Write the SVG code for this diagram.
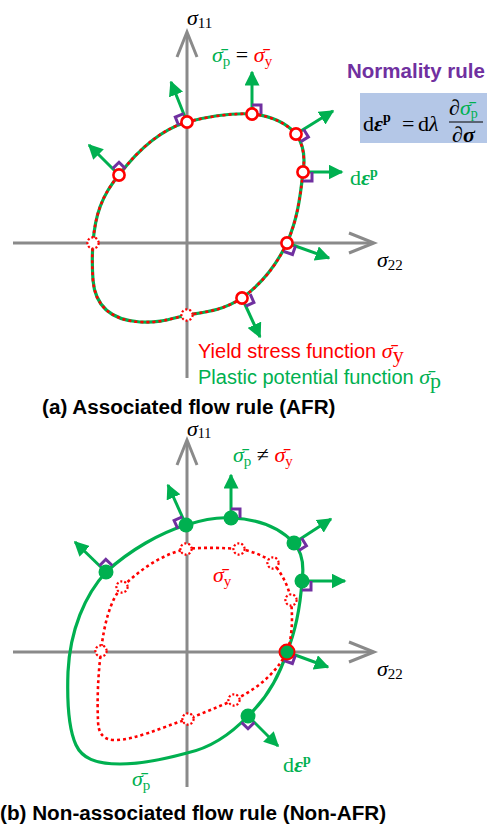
<svg xmlns="http://www.w3.org/2000/svg" width="487" height="824" viewBox="0 0 487 824">
<defs>
<marker id="ah" viewBox="0 0 10 10" refX="9" refY="5" markerWidth="5" markerHeight="5" orient="auto" markerUnits="strokeWidth">
<path d="M0,0 L10,5 L0,10 Z" fill="#00B050"/>
</marker>
<style>
.axis{stroke:#8a8a8a;stroke-width:3;fill:none}
.grn{stroke:#00B050;stroke-width:3.2;fill:none}
.reddot{stroke:#FF0000;stroke-width:2.6;fill:none;stroke-dasharray:3 3}
.pt{fill:#fff;stroke:#FF0000;stroke-width:2.6}
.dpt{fill:#fff;stroke:#FF0000;stroke-width:2.2;stroke-dasharray:2 2}
.gpt{fill:#00B050}
.nrm{stroke:#00B050;stroke-width:3;marker-end:url(#ah);fill:none}
.ra{stroke:#7030A0;stroke-width:3;fill:none}
.m{font-family:"Liberation Serif","Times New Roman",serif;font-size:22px}
.it{font-style:italic}
.lbl{font-family:"Liberation Sans",Arial,sans-serif;font-size:20px}
.ttl{font-family:"Liberation Sans",Arial,sans-serif;font-size:20.7px;font-weight:bold;fill:#000}
</style>
</defs>
<rect width="487" height="824" fill="#fff"/>

<!-- ===== (a) ===== -->
<g id="a-axes">
<line class="axis" x1="187" y1="378" x2="187" y2="33"/>
<polyline class="axis" points="177,57 187,32 197,57"/>
<line class="axis" x1="13" y1="243" x2="373" y2="243"/>
<polyline class="axis" points="349,233 374,243 349,253"/>
<text class="m" x="187" y="25" font-size="20"><tspan class="it">σ</tspan><tspan font-size="15" dy="3">11</tspan></text>
<text class="m" x="377" y="267" font-size="20"><tspan class="it">σ</tspan><tspan font-size="15" dy="3">22</tspan></text>
</g>

<g id="a-surface">
<path class="grn" d="M187,122 C210,116 235,113 252,114 C272,116 287,124 296,134 C304,145 305,160 303,172 C300,200 297,220 287,243 C275,268 260,285 242,298 C222,311 205,312 187,315 C170,319 160,323 140,322 C110,320 95,305 93,280 C92,265 92,255 93,243 C95,215 102,195 119,175 C138,150 160,130 187,122 Z"/>
<path class="reddot" d="M187,122 C210,116 235,113 252,114 C272,116 287,124 296,134 C304,145 305,160 303,172 C300,200 297,220 287,243 C275,268 260,285 242,298 C222,311 205,312 187,315 C170,319 160,323 140,322 C110,320 95,305 93,280 C92,265 92,255 93,243 C95,215 102,195 119,175 C138,150 160,130 187,122 Z"/>
</g>

<g id="connectors">
<line class="nrm" x1="119" y1="175" x2="89" y2="145"/>
<line class="nrm" x1="187" y1="122" x2="171" y2="82"/>
<line class="nrm" x1="252" y1="114" x2="252" y2="72"/>
<line class="nrm" x1="296" y1="134" x2="333" y2="111"/>
<line class="nrm" x1="303" y1="172" x2="342" y2="172"/>
<line class="nrm" x1="287" y1="243" x2="329" y2="258"/>
<line class="nrm" x1="242" y1="298" x2="260" y2="337"/>
<line class="nrm" x1="106" y1="572" x2="75" y2="542"/>
<line class="nrm" x1="186" y1="525" x2="168" y2="485"/>
<line class="nrm" x1="231" y1="518" x2="231" y2="475"/>
<line class="nrm" x1="294" y1="543" x2="331" y2="519"/>
<line class="nrm" x1="302" y1="581" x2="345" y2="581"/>
<line class="nrm" x1="287" y1="652" x2="328" y2="667"/>
<line class="nrm" x1="248" y1="716" x2="278" y2="746"/>
</g>

<g id="a-right-angles">
<polyline class="ra" points="112.6,168.6 119,162.3 125.4,168.6"/>
<polyline class="ra" points="183.7,113.6 175.3,117 178.6,125.3"/>
<polyline class="ra" points="252,105 261,105 261,114"/>
<polyline class="ra" points="303.6,129.2 308.4,136.9 300.8,141.6"/>
<polyline class="ra" points="312,172 312,181 303,181"/>
<polyline class="ra" points="295.5,246 292.5,254.5 284,251.5"/>
<polyline class="ra" points="245.8,306.2 253.9,302.4 250.2,294.2"/>
</g>

<g id="a-points">
<circle class="pt" cx="119" cy="175" r="5.6"/>
<circle class="pt" cx="187" cy="122" r="5.6"/>
<circle class="pt" cx="252" cy="114" r="5.6"/>
<circle class="pt" cx="296" cy="134" r="5.6"/>
<circle class="pt" cx="303" cy="172" r="5.6"/>
<circle class="pt" cx="287" cy="243" r="5.6"/>
<circle class="pt" cx="242" cy="298" r="5.6"/>
<circle class="dpt" cx="93" cy="243" r="5.6"/>
<circle class="dpt" cx="187" cy="315" r="5.6"/>
</g>

<g id="a-labels">
<text class="m" x="212" y="62"><tspan class="it" fill="#00B050">σ̄</tspan><tspan fill="#00B050" font-size="15" dy="4">p</tspan><tspan dy="-4" fill="#000"> = </tspan><tspan class="it" fill="#FF0000">σ̄</tspan><tspan fill="#FF0000" font-size="15" dy="4">y</tspan></text>
<text class="m" x="350" y="185" fill="#00B050" font-size="21">d<tspan class="it" font-weight="bold">ε</tspan><tspan font-weight="bold" font-size="14" dy="-8">p</tspan></text>
<text class="lbl" x="198" y="358" fill="#FF0000">Yield stress function <tspan class="m it" font-size="21">σ̄</tspan><tspan class="m" font-size="15" dy="4">y</tspan></text>
<text class="lbl" x="198" y="384" fill="#00B050">Plastic potential function <tspan class="m it" font-size="21">σ̄</tspan><tspan class="m" font-size="15" dy="4">p</tspan></text>
<text class="ttl" x="42" y="414">(a) Associated flow rule (AFR)</text>
</g>

<g id="normality-rule">
<text x="347" y="78" font-family="Liberation Sans, Arial, sans-serif" font-size="20.5" font-weight="bold" fill="#7030A0">Normality rule</text>
<rect x="360" y="93" width="127" height="50" fill="#B4C7E7"/>
<text class="m" x="363" y="131" fill="#000" font-size="22">d<tspan class="it" font-weight="bold">ε</tspan><tspan font-weight="bold" font-size="14" dy="-9">p</tspan></text>
<text class="m" x="402" y="131" fill="#000">=</text>
<text class="m" x="418" y="131" fill="#000">d<tspan class="it">λ</tspan></text>
<text class="m" x="449" y="115" fill="#000" font-size="20"><tspan class="it">∂</tspan><tspan class="it" fill="#00B050">σ̄</tspan><tspan fill="#00B050" font-size="14" dy="3">p</tspan></text>
<line x1="449" y1="122" x2="483" y2="122" stroke="#000" stroke-width="1.2"/>
<text class="m" x="452" y="142" fill="#000" font-size="20"><tspan class="it">∂</tspan><tspan class="it" font-weight="bold">σ</tspan></text>
</g>

<!-- ===== (b) ===== -->
<g id="b-axes">
<line class="axis" x1="187" y1="787" x2="187" y2="441"/>
<polyline class="axis" points="177,465 187,440 197,465"/>
<line class="axis" x1="13" y1="652" x2="373" y2="652"/>
<polyline class="axis" points="349,642 374,652 349,662"/>
<text class="m" x="187" y="436" font-size="19"><tspan class="it">σ</tspan><tspan font-size="14" dy="2">11</tspan></text>
<text class="m" x="377" y="676" font-size="20"><tspan class="it">σ</tspan><tspan font-size="15" dy="3">22</tspan></text>
</g>

<g id="b-plastic-potential">
<path class="grn" d="M186,525 C205,519 220,517 231,518 C258,519 280,528 294,543 C303,553 304,567 302,581 C300,610 296,630 287,652 C278,680 265,700 248,716 C230,735 210,748 187,753 C165,759 140,764 120,764 C95,764 82,758 76,745 C69,730 67,700 68,672 C70,630 85,595 106,572 C130,550 160,533 186,525 Z"/>
</g>
<g id="b-yield">
<path class="reddot" d="M186,549 C205,547 225,548 239,549 C252,551 265,556 273,563 C283,575 289,588 291,600 C293,620 292,638 287,652 C275,675 255,690 234,700 C218,707 203,713 188,719 C160,728 135,740 115,740 C103,740 98,733 98,720 C97,700 98,675 101,651 C104,625 110,600 122,587 C140,570 160,555 186,549 Z"/>
<circle class="dpt" cx="186" cy="549" r="5.6"/>
<circle class="dpt" cx="239" cy="549" r="5.6"/>
<circle class="dpt" cx="273" cy="563" r="5.6"/>
<circle class="dpt" cx="291" cy="600" r="5.6"/>
<circle class="dpt" cx="122" cy="587" r="5.6"/>
<circle class="dpt" cx="101" cy="651" r="5.6"/>
<circle class="dpt" cx="188" cy="719" r="5.6"/>
<circle class="dpt" cx="234" cy="700" r="5.6"/>
</g>

<g id="b-right-angles">
<polyline class="ra" points="99.5,565.7 105.8,559.3 112.3,565.5"/>
<polyline class="ra" points="182.3,516.8 174.1,520.5 177.8,528.7"/>
<polyline class="ra" points="231,509 240,509 240,518"/>
<polyline class="ra" points="301.6,538.1 306.4,545.7 298.9,550.6"/>
<polyline class="ra" points="311,581 311,590 302,590"/>
<polyline class="ra" points="295.5,655.1 292.4,663.5 283.9,660.5"/>
<polyline class="ra" points="254.4,722.4 248,728.7 241.6,722.4"/>
</g>

<g id="b-points">
<circle class="gpt" cx="106" cy="572" r="7.5"/>
<circle class="gpt" cx="186" cy="525" r="7.5"/>
<circle class="gpt" cx="231" cy="518" r="7.5"/>
<circle class="gpt" cx="294" cy="543" r="7.5"/>
<circle class="gpt" cx="302" cy="581" r="7.5"/>
<circle class="gpt" cx="248" cy="716" r="7.5"/>
<circle cx="287" cy="652" r="7.5" fill="#00B050" stroke="#FF0000" stroke-width="2"/>
</g>

<g id="b-labels">
<text class="m" x="233" y="462"><tspan class="it" fill="#00B050">σ̄</tspan><tspan fill="#00B050" font-size="15" dy="4">p</tspan><tspan dy="-4" fill="#000"> ≠ </tspan><tspan class="it" fill="#FF0000">σ̄</tspan><tspan fill="#FF0000" font-size="15" dy="4">y</tspan></text>
<text class="m" x="213" y="582" fill="#FF0000"><tspan class="it">σ̄</tspan><tspan font-size="15" dy="4">y</tspan></text>
<text class="m" x="132" y="786" fill="#00B050"><tspan class="it">σ̄</tspan><tspan font-size="15" dy="4">p</tspan></text>
<text class="m" x="283" y="772" fill="#00B050" font-size="21">d<tspan class="it" font-weight="bold">ε</tspan><tspan font-weight="bold" font-size="14" dy="-8">p</tspan></text>
<text class="ttl" x="0" y="820">(b) Non-associated flow rule (Non-AFR)</text>
</g>
</svg>
